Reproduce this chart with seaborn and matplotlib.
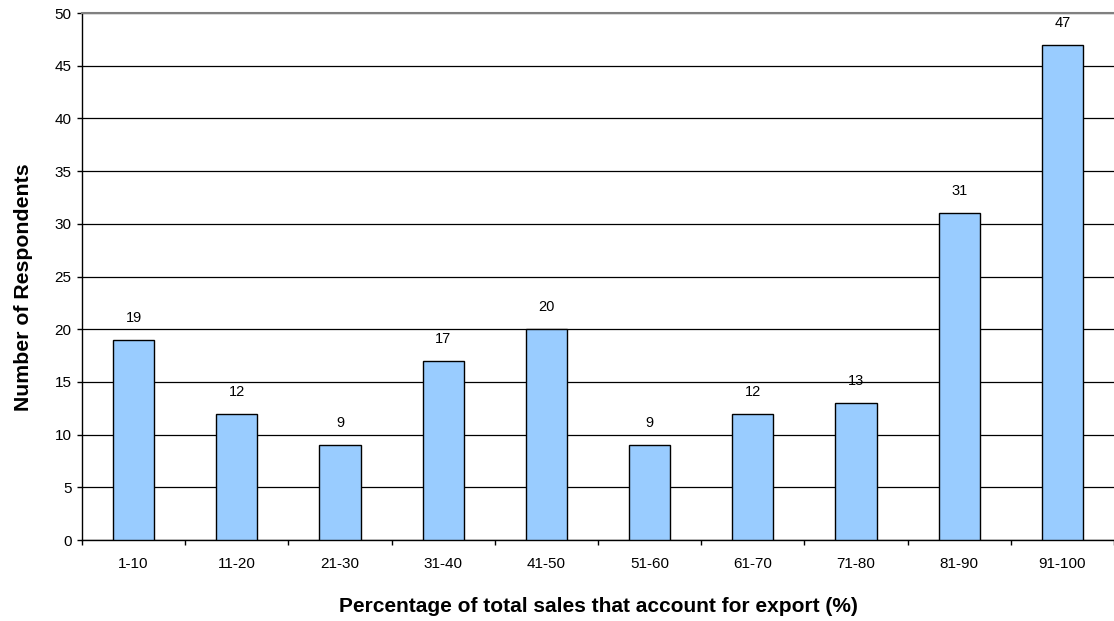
import numpy as np
import pandas as pd
import matplotlib
matplotlib.use('Agg')
import matplotlib.pyplot as plt
import seaborn as sns

# === Data ===
categories = ['1-10', '11-20', '21-30', '31-40', '41-50',
              '51-60', '61-70', '71-80', '81-90', '91-100']
respondents = [19, 12, 9, 17, 20, 9, 12, 13, 31, 47]

df = pd.DataFrame({'range': categories, 'count': respondents})

sns.set_style('white')
plt.rcParams['font.family'] = ['Liberation Sans', 'DejaVu Sans']
plt.rcParams['text.color'] = 'black'
plt.rcParams['axes.labelcolor'] = 'black'
plt.rcParams['xtick.color'] = 'black'
plt.rcParams['ytick.color'] = 'black'

fig = plt.figure(figsize=(11.14, 6.21), dpi=100)
ax = fig.add_axes([0.0736, 0.1304, 0.9264, 0.8486])

sns.barplot(data=df, x='range', y='count', color='#99CCFF', saturation=1,
            edgecolor='black', linewidth=1, width=0.4, ax=ax, zorder=3)

# value labels
for i, v in enumerate(respondents):
    ax.text(i, v + 1.7, str(v), ha='center', va='baseline', fontsize=10.5)

ax.set_ylim(0, 50)
ax.set_xlim(-0.5, len(categories) - 0.5)
ax.set_yticks(np.arange(0, 51, 5))
ax.yaxis.grid(True, color='black', linewidth=0.9, zorder=0)
ax.set_axisbelow(True)

# x ticks at category boundaries, labels at centers
ax.set_xticks(np.arange(-0.5, len(categories), 1.0))
ax.set_xticklabels([])
ax.set_xticks(np.arange(len(categories)), minor=True)
ax.set_xticklabels(categories, minor=True, fontsize=11)
ax.tick_params(axis='x', which='minor', length=0, pad=12)
ax.tick_params(axis='x', which='major', direction='out', length=3.5, width=1, color='black')
ax.tick_params(axis='y', direction='out', length=3.5, width=1, color='black',
               labelsize=11, pad=4)
ax.tick_params(axis='both', bottom=True, left=True)

for side in ['left', 'bottom']:
    ax.spines[side].set_color('black')
    ax.spines[side].set_linewidth(1)
ax.spines['top'].set_color('#808080')
ax.spines['top'].set_linewidth(1.5)
ax.spines['right'].set_visible(False)

ax.set_xlabel('Percentage of total sales that account for export (%)',
              fontsize=15, fontweight='bold', labelpad=19)
ax.set_ylabel('Number of Respondents', fontsize=15.3, fontweight='bold')
ax.yaxis.label.set_va('center')
ax.yaxis.set_label_coords(-0.0567, 0.48)

fig.savefig('out.png', dpi=100)
